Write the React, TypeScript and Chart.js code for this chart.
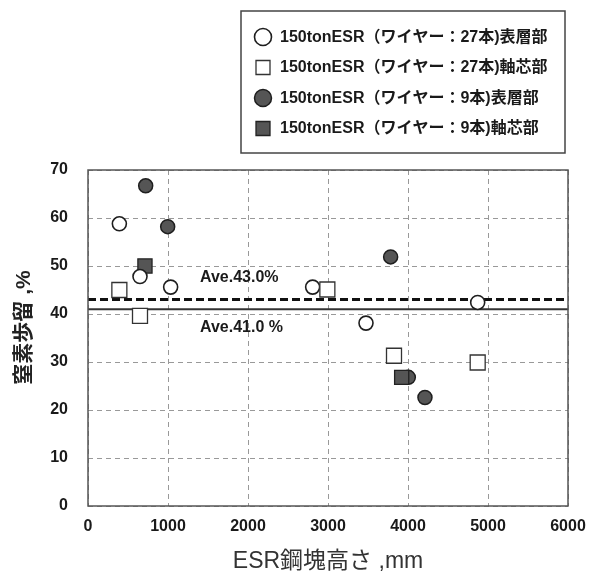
import { useEffect, useRef } from "react";
import { Chart, registerables } from "chart.js";

Chart.register(...registerables);

// ---- data ----
const seriesLabels = [
  "150tonESR（ワイヤー：27本)表層部",
  "150tonESR（ワイヤー：27本)軸芯部",
  "150tonESR（ワイヤー：9本)表層部",
  "150tonESR（ワイヤー：9本)軸芯部",
];

const openCircleX = [392, 650, 1033, 2808, 3475, 4871];
const openCircleY = [58.8, 47.8, 45.6, 45.6, 38.1, 42.4];

const openSquareX = [392, 650, 2992, 3825, 4871];
const openSquareY = [45.0, 39.6, 45.1, 31.3, 29.9];

const darkCircleX = [721, 996, 3783, 4004, 4212];
const darkCircleY = [66.7, 58.2, 51.9, 26.8, 22.6];

const darkSquareX = [712, 3921];
const darkSquareY = [50.0, 26.8];

const averageValues = [43.0, 41.0];
const averageLabels = ["Ave.43.0%", "Ave.41.0 %"];
const averageLabelX = [1400, 1400];

const xRange = [0, 6000];
const yRange = [0, 70];
const xTitle = "ESR鋼塊高さ ,mm";
const yTitle = "\u3000窒素歩留 ,%";

const FONT = "'Liberation Sans', 'Noto Sans CJK JP', sans-serif";

const toPoints = (xs: number[], ys: number[]) => xs.map((x, i) => ({ x, y: ys[i] }));

export default function App() {
  const ref = useRef<HTMLCanvasElement>(null);

  useEffect(() => {
    const canvas = ref.current;
    if (!canvas) return;

    const markerStyles = [
      { shape: "circle", fill: "#ffffff", stroke: "#1e1e1e", lw: 1.6, legendR: 8.5 },
      { shape: "rect", fill: "#ffffff", stroke: "#333333", lw: 1.3, legendR: 7 },
      { shape: "circle", fill: "#555555", stroke: "#1e1e1e", lw: 1.5, legendR: 8.5 },
      { shape: "rect", fill: "#555555", stroke: "#222222", lw: 1.3, legendR: 7 },
    ];

    const boxPlugin = {
      id: "frameAndLegend",
      beforeDraw(chart: any) {
        const { ctx } = chart;
        ctx.save();
        ctx.fillStyle = "#ffffff";
        ctx.fillRect(0, 0, chart.width, chart.height);
        ctx.restore();
      },
      afterDatasetsDraw(chart: any) {
        const { ctx, chartArea } = chart;
        const xs = chart.scales.x;
        const ys = chart.scales.y;
        ctx.save();
        ctx.strokeStyle = "#555555";
        ctx.lineWidth = 1.5;
        ctx.setLineDash([]);
        ctx.strokeRect(chartArea.left, chartArea.top, chartArea.right - chartArea.left, chartArea.bottom - chartArea.top);
        ctx.fillStyle = "#1a1a1a";
        ctx.font = `bold 16px ${FONT}`;
        ctx.textBaseline = "middle";
        ctx.textAlign = "left";
        const offsets = [-22, 18];
        averageValues.forEach((v, i) => {
          ctx.fillText(averageLabels[i], xs.getPixelForValue(averageLabelX[i]), ys.getPixelForValue(v) + offsets[i]);
        });
        ctx.restore();
      },
      afterDraw(chart: any) {
        const { ctx } = chart;
        ctx.save();
        ctx.strokeStyle = "#444444";
        ctx.lineWidth = 1.5;
        ctx.strokeRect(241, 11, 324, 142);
        ctx.font = `bold 16px ${FONT}`;
        ctx.textBaseline = "middle";
        ctx.textAlign = "left";
        const rows = [37, 67.5, 98, 128.5];
        seriesLabels.forEach((label, i) => {
          const m = markerStyles[i];
          const cy = rows[i];
          const cx = 263;
          ctx.fillStyle = m.fill;
          ctx.strokeStyle = m.stroke;
          ctx.lineWidth = m.lw;
          ctx.beginPath();
          if (m.shape === "circle") {
            ctx.arc(cx, cy, m.legendR, 0, Math.PI * 2);
          } else {
            ctx.rect(cx - m.legendR, cy - m.legendR, m.legendR * 2, m.legendR * 2);
          }
          ctx.fill();
          ctx.stroke();
          ctx.fillStyle = "#1a1a1a";
          ctx.fillText(label, 280, cy + 0.5);
        });
        ctx.restore();
      },
    };

    const chart = new Chart(canvas, {
      type: "scatter",
      data: {
        datasets: [
          {
            label: seriesLabels[0],
            data: toPoints(openCircleX, openCircleY),
            pointStyle: "circle",
            pointRadius: 7,
            pointHoverRadius: 7,
            backgroundColor: "#ffffff",
            borderColor: "#1e1e1e",
            borderWidth: 1.6,
            order: 1,
          },
          {
            label: seriesLabels[1],
            data: toPoints(openSquareX, openSquareY),
            pointStyle: "rect",
            pointRadius: 10.6,
            pointHoverRadius: 10.6,
            backgroundColor: "#ffffff",
            borderColor: "#333333",
            borderWidth: 1.3,
            order: 0,
          },
          {
            label: seriesLabels[2],
            data: toPoints(darkCircleX, darkCircleY),
            pointStyle: "circle",
            pointRadius: 7,
            pointHoverRadius: 7,
            backgroundColor: "#555555",
            borderColor: "#1e1e1e",
            borderWidth: 1.5,
            order: 3,
          },
          {
            label: seriesLabels[3],
            data: toPoints(darkSquareX, darkSquareY),
            pointStyle: "rect",
            pointRadius: 10,
            pointHoverRadius: 10,
            backgroundColor: "#555555",
            borderColor: "#222222",
            borderWidth: 1.3,
            order: 2,
          },
          {
            label: averageLabels[0],
            data: [
              { x: xRange[0], y: averageValues[0] },
              { x: xRange[1], y: averageValues[0] },
            ],
            showLine: true,
            pointRadius: 0,
            borderColor: "#111111",
            borderWidth: 3,
            borderDash: [8, 4],
            order: 10,
          },
          {
            label: averageLabels[1],
            data: [
              { x: xRange[0], y: averageValues[1] },
              { x: xRange[1], y: averageValues[1] },
            ],
            showLine: true,
            pointRadius: 0,
            borderColor: "#333333",
            borderWidth: 2,
            order: 11,
          },
        ] as any,
      },
      options: {
        animation: false,
        responsive: false,
        devicePixelRatio: 1,
        layout: { padding: { top: 170, right: 21, bottom: 0, left: 0 } },
        plugins: {
          legend: { display: false },
          tooltip: { enabled: false },
        },
        scales: {
          x: {
            type: "linear",
            min: xRange[0],
            max: xRange[1],
            ticks: {
              stepSize: 1000,
              padding: 11,
              color: "#1a1a1a",
              font: { family: FONT, size: 16, weight: "bold" },
              maxRotation: 0,
              callback: (v: any) => String(v),
            },
            grid: { color: "#999999", lineWidth: 1, drawTicks: false },
            border: { display: false, dash: [5, 4] },
            title: {
              display: true,
              text: xTitle,
              color: "#333333",
              font: { family: FONT, size: 23, weight: "normal" },
              padding: { top: 0, bottom: 0 },
            },
            afterFit: (s: any) => {
              s.height = 69;
              s.paddingLeft = 0;
              s.paddingRight = 0;
            },
          },
          y: {
            type: "linear",
            min: yRange[0],
            max: yRange[1],
            ticks: {
              stepSize: 10,
              padding: 20,
              color: "#1a1a1a",
              font: { family: FONT, size: 16, weight: "bold" },
              callback: (v: any) => String(v),
            },
            grid: { color: "#999999", lineWidth: 1, drawTicks: false },
            border: { display: false, dash: [5, 4] },
            title: {
              display: true,
              text: yTitle,
              color: "#222222",
              font: { family: FONT, size: 21, weight: "bold" },
              padding: { top: 12, bottom: 0 },
            },
            afterFit: (s: any) => {
              s.width = 88;
              s.paddingTop = 0;
              s.paddingBottom = 0;
            },
          },
        },
      } as any,
      plugins: [boxPlugin],
    });

    return () => chart.destroy();
  }, []);

  return (
    <div style={{ position: "fixed", left: 0, top: 0, width: 589, height: 575, background: "#fff" }}>
      <canvas ref={ref} width={589} height={575} style={{ display: "block", width: 589, height: 575 }} />
    </div>
  );
}
